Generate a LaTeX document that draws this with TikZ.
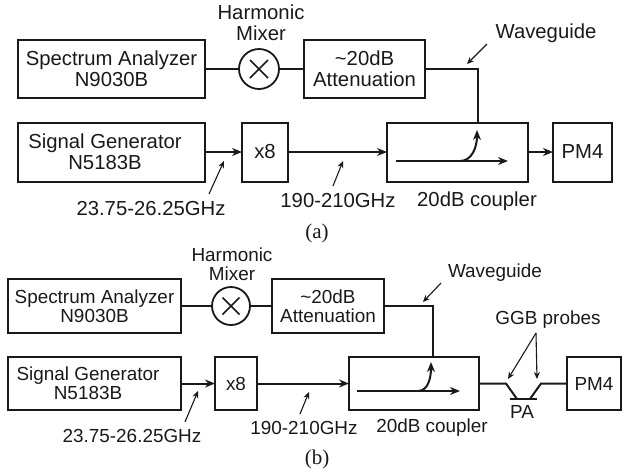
\documentclass[tikz,border=0pt]{standalone}
\usepackage{fontspec}
\setmainfont{Liberation Sans}
\newfontfamily\capfont{Liberation Serif}
\usetikzlibrary{arrows.meta,calc}
\definecolor{ink}{gray}{0.1}
\tikzset{
  x=1pt,y=-1pt,
  every node/.style={text=ink,inner sep=0pt,outer sep=0pt},
  fa/.style={font=\fontsize{20.3}{21}\selectfont,align=center},
  fb/.style={font=\fontsize{18.9}{19}\selectfont,align=center},
  blk/.style={draw=ink,line width=2pt,rectangle},
  wire/.style={draw=ink,line width=2pt,line join=miter},
  flow/.style={wire,-{Stealth[length=10pt,width=8pt]}},
  note/.style={draw=ink,line width=1.1pt,-{Stealth[length=7pt,width=6pt]}},
  mix/.style={draw=ink,line width=1.8pt,circle},
  capt/.style={font=\capfont\fontsize{21}{21}\selectfont},
}
\begin{document}
\begin{tikzpicture}
\useasboundingbox (0,0) rectangle (630,475);
% ---- panel (a)
\begin{scope}[every node/.append style={fa}]
\node[blk,minimum width=187pt,minimum height=58pt] (sa) at (111.5,69) {Spectrum Analyzer\\N9030B};
\node[mix,minimum size=40pt] (mx) at (259,69) {};
\node (mxl) at (261,23) {Harmonic\\Mixer};
\node[blk,minimum width=121pt,minimum height=58pt] (at) at (364.5,69) {\textasciitilde 20dB\\Attenuation};
\node[blk,minimum width=187pt,minimum height=59pt] (sg) at (111.5,152) {Signal Generator\hspace*{13pt}\\N5183B\hspace*{13pt}};
\node[blk,minimum width=46pt,minimum height=59pt] (x8) at (265,152) {x8};
\node[blk,minimum width=141pt,minimum height=59pt] (cp) at (457.5,152) {};
\node[blk,minimum width=59pt,minimum height=59pt] (pm) at (582.5,152) {PM4};
\node (wg) at (546,33) {Waveguide};
\node (f1) at (151,209) {23.75-26.25GHz};
\node (f2) at (338,201) {190-210GHz};
\node (cl) at (477,201) {20dB coupler};
\end{scope}
\node[capt] (ca) at (317,233) {(a)};
\coordinate (wc) at (478,69);
\coordinate (ci) at (396,161);
\coordinate (co) at (508,161);
\coordinate (cb) at (460,161);
\coordinate (ct) at (477,130);
\coordinate (wgh) at (467,64);
\coordinate (f1h) at (224,161);
\coordinate (f1t) at (209,194);
\coordinate (f2h) at (343,161);
\coordinate (f2t) at (333,186);
\coordinate (wgt) at (487,44);
\draw[wire] (sa.east) -- (mx.west);
\draw[wire] (mx.east) -- (at.west);
\draw[wire] (at.east) -- (wc) -- (wc |- cp.north);
\draw[flow] (sg.east) -- (x8.west);
\draw[flow] (x8.east) -- (cp.west);
\draw[flow] (cp.east) -- (pm.west);
\draw[flow] (ci) -- (co);
\draw[flow] (cb) .. controls ($(cb)+(12,0)$) and ($(ct)+(0,17)$) .. (ct);
\draw[note] (wgt) -- (wgh);
\draw[note] (f1t) -- (f1h);
\draw[note] (f2t) -- (f2h);
\draw[wire,line width=1.7pt] ($(mx)+(-9,-9)$) -- ($(mx)+(9,9)$);
\draw[wire,line width=1.7pt] ($(mx)+(-9,9)$) -- ($(mx)+(9,-9)$);
% ---- panel (b)
\begin{scope}[every node/.append style={fb}]
\node[blk,minimum width=173pt,minimum height=54pt] (sb) at (94.5,306) {Spectrum Analyzer\\N9030B};
\node[mix,minimum size=38pt] (mb) at (231,306) {};
\node (mbl) at (232,264) {Harmonic\\Mixer};
\node[blk,minimum width=112pt,minimum height=54pt] (ab) at (328,306) {\textasciitilde 20dB\\Attenuation};
\node[blk,minimum width=173pt,minimum height=53pt] (gb) at (94.5,383.5) {Signal Generator\hspace*{13pt}\\N5183B\hspace*{13pt}};
\node[blk,minimum width=42pt,minimum height=53pt] (xb) at (236,383.5) {x8};
\node[blk,minimum width=130pt,minimum height=53pt] (cb2) at (414,383.5) {};
\node[blk,minimum width=54pt,minimum height=53pt] (pb) at (594,383.5) {PM4};
\node (wb) at (495,273) {Waveguide};
\node (gp) at (548,320) {GGB probes};
\node (pa) at (522,412) {PA};
\node (f1b) at (132,436) {23.75-26.25GHz};
\node (f2b) at (304,428) {190-210GHz};
\node (clb) at (432,428) {20dB coupler};
\end{scope}
\node[capt] (cc) at (317,459) {(b)};
\coordinate (wcb) at (433,306);
\coordinate (cib) at (357,391);
\coordinate (cob) at (460,391);
\coordinate (cbb) at (418,391);
\coordinate (ctb) at (431,362);
\coordinate (p1) at (506,383.5);
\coordinate (p2) at (517,399);
\coordinate (p3) at (530,399);
\coordinate (p4) at (541,383.5);
\coordinate (bl) at (510,399);
\coordinate (br) at (537,399);
\coordinate (gpt) at (536,333);
\coordinate (gh1) at (508,379);
\coordinate (gh2) at (537,379);
\coordinate (wbt) at (441,283);
\coordinate (wbh) at (423,302);
\coordinate (f1bt) at (185,422);
\coordinate (f1bh) at (198,391);
\coordinate (f2bt) at (300,414);
\coordinate (f2bh) at (309,392);
\draw[wire] (sb.east) -- (mb.west);
\draw[wire] (mb.east) -- (ab.west);
\draw[wire] (ab.east) -- (wcb) -- (wcb |- cb2.north);
\draw[flow] (gb.east) -- (xb.west);
\draw[flow] (xb.east) -- (cb2.west);
\draw[flow] (cib) -- (cob);
\draw[flow] (cbb) .. controls ($(cbb)+(10,0)$) and ($(ctb)+(0,16)$) .. (ctb);
\draw[wire] (cb2.east) -- (p1) -- (p2);
\draw[wire] (p3) -- (p4) -- (pb.west);
\draw[wire] (bl) -- (br);
\draw[note] (gpt) -- (gh1);
\draw[note] (gpt) -- (gh2);
\draw[note] (wbt) -- (wbh);
\draw[note] (f1bt) -- (f1bh);
\draw[note] (f2bt) -- (f2bh);
\draw[wire,line width=1.6pt] ($(mb)+(-8.5,-8.5)$) -- ($(mb)+(8.5,8.5)$);
\draw[wire,line width=1.6pt] ($(mb)+(-8.5,8.5)$) -- ($(mb)+(8.5,-8.5)$);
\end{tikzpicture}
\end{document}
